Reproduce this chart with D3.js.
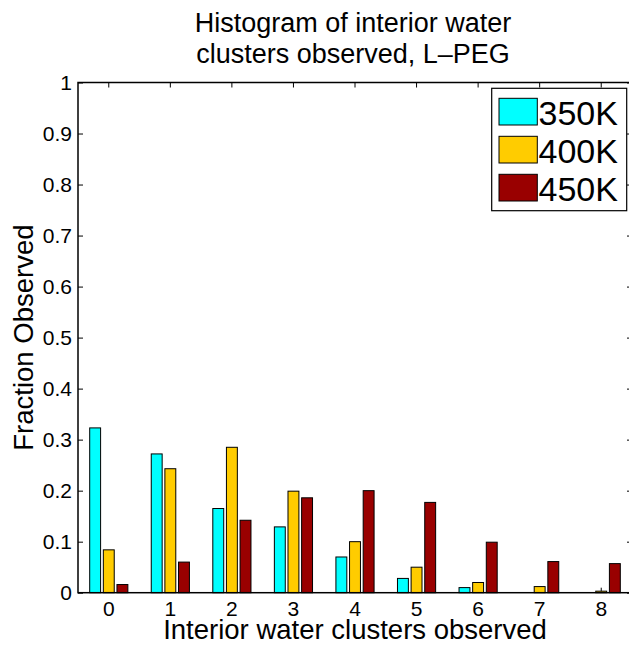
<!DOCTYPE html>
<html>
<head>
<meta charset="utf-8">
<script src="https://cdn.jsdelivr.net/npm/d3@7"></script>
<style>
  body { margin: 0; background: #fff; }
  svg { display: block; font-family: "Liberation Sans", Arial, Helvetica, sans-serif; }
</style>
</head>
<body>
<svg id="chart" width="629" height="648"></svg>
<script>
// data
const categories = [0, 1, 2, 3, 4, 5, 6, 7, 8]
const series = ['350K', '400K', '450K']
const colors = ['#00ffff', '#ffcc00', '#990000']
const v350 = [0.323, 0.272, 0.165, 0.129, 0.070, 0.028, 0.010, 0, 0]
const v400 = [0.084, 0.243, 0.285, 0.199, 0.100, 0.050, 0.020, 0.012, 0.003]
const v450 = [0.016, 0.060, 0.142, 0.186, 0.200, 0.177, 0.099, 0.061, 0.057]
const yTicks = [0, 0.1, 0.2, 0.3, 0.4, 0.5, 0.6, 0.7, 0.8, 0.9, 1]
const values = [v350, v400, v450]

const pLeft = 78, pRight = 632, pTop = 82.5, pBottom = 592.7

const svg = d3.select('#chart')

const x = d3.scaleBand().domain(categories).range([pLeft, pRight]).padding(0)
const bw = x.bandwidth()
const xs = d3.scaleBand().domain(series)
	.range([bw * 0.19, bw * 0.81])
	.paddingInner(0.2).paddingOuter(0)
const y = d3.scaleLinear().domain([0, 1]).range([pBottom, pTop])

// bottom axis first so its inward ticks sit behind the bars
const xAxis = svg.append('g')
	.attr('transform', `translate(0,${pBottom})`)
	.call(d3.axisBottom(x).tickSizeInner(-5).tickSizeOuter(0).tickPadding(8))
xAxis.select('.domain').remove()
xAxis.selectAll('text').style('font-size', '21px').attr('fill', '#000')

// bars
const groups = svg.selectAll('g.grp')
	.data(categories)
	.enter()
	.append('g')
	.attr('class', 'grp')
	.attr('transform', d => `translate(${x(d)},0)`)

groups.selectAll('rect')
	.data((d, i) => series.map((s, j) => ({ s, j, v: values[j][i] })))
	.enter()
	.append('rect')
	.attr('x', d => xs(d.s))
	.attr('width', xs.bandwidth())
	.attr('y', d => y(d.v))
	.attr('height', d => pBottom - y(d.v))
	.attr('fill', d => colors[d.j])
	.attr('stroke', '#000')
	.attr('stroke-width', 1)

// other axes
const yAxis = svg.append('g')
	.attr('transform', `translate(${pLeft},0)`)
	.call(d3.axisLeft(y).tickValues(yTicks).tickFormat(d3.format('~g'))
		.tickSizeInner(-5).tickSizeOuter(0).tickPadding(6))
yAxis.select('.domain').remove()
yAxis.selectAll('text').style('font-size', '21px').attr('fill', '#000')

const yAxisR = svg.append('g')
	.attr('transform', `translate(${pRight},0)`)
	.call(d3.axisRight(y).tickValues(yTicks).tickFormat('')
		.tickSizeInner(-5).tickSizeOuter(0))
yAxisR.select('.domain').remove()

const xAxisT = svg.append('g')
	.attr('transform', `translate(0,${pTop})`)
	.call(d3.axisTop(x).tickFormat('').tickSizeInner(-5).tickSizeOuter(0))
xAxisT.select('.domain').remove()

svg.append('rect')
	.attr('x', pLeft).attr('y', pTop)
	.attr('width', pRight - pLeft).attr('height', pBottom - pTop)
	.attr('fill', 'none').attr('stroke', '#000').attr('stroke-width', 1.5)

// titles
const title = svg.append('text')
	.attr('text-anchor', 'middle')
	.style('font-size', '27px')
title.append('tspan').attr('x', 353).attr('y', 32).text('Histogram of interior water')
title.append('tspan').attr('x', 353).attr('y', 63).text('clusters observed, L\u2013PEG')

svg.append('text')
	.attr('x', 355).attr('y', 639)
	.attr('text-anchor', 'middle')
	.style('font-size', '27.5px')
	.text('Interior water clusters observed')

svg.append('text')
	.attr('transform', `translate(33,${(pTop + pBottom) / 2}) rotate(-90)`)
	.attr('text-anchor', 'middle')
	.style('font-size', '27.5px')
	.text('Fraction Observed')

// legend
const lg = svg.append('g')
lg.append('rect')
	.attr('x', 491.7).attr('y', 88.3)
	.attr('width', 135).attr('height', 122.4)
	.attr('fill', '#fff').attr('stroke', '#000').attr('stroke-width', 1.2)

const items = lg.selectAll('g.item')
	.data(series)
	.enter()
	.append('g')
	.attr('class', 'item')
	.attr('transform', (d, i) => `translate(0,${i * 38})`)
items.append('rect')
	.attr('x', 499).attr('y', 98.3)
	.attr('width', 38.3).attr('height', 26.7)
	.attr('fill', (d, i) => colors[i])
	.attr('stroke', '#000').attr('stroke-width', 1)
items.append('text')
	.attr('x', 538.5).attr('y', 125)
	.style('font-size', '34px')
	.text(d => d)
</script>
</body>
</html>
